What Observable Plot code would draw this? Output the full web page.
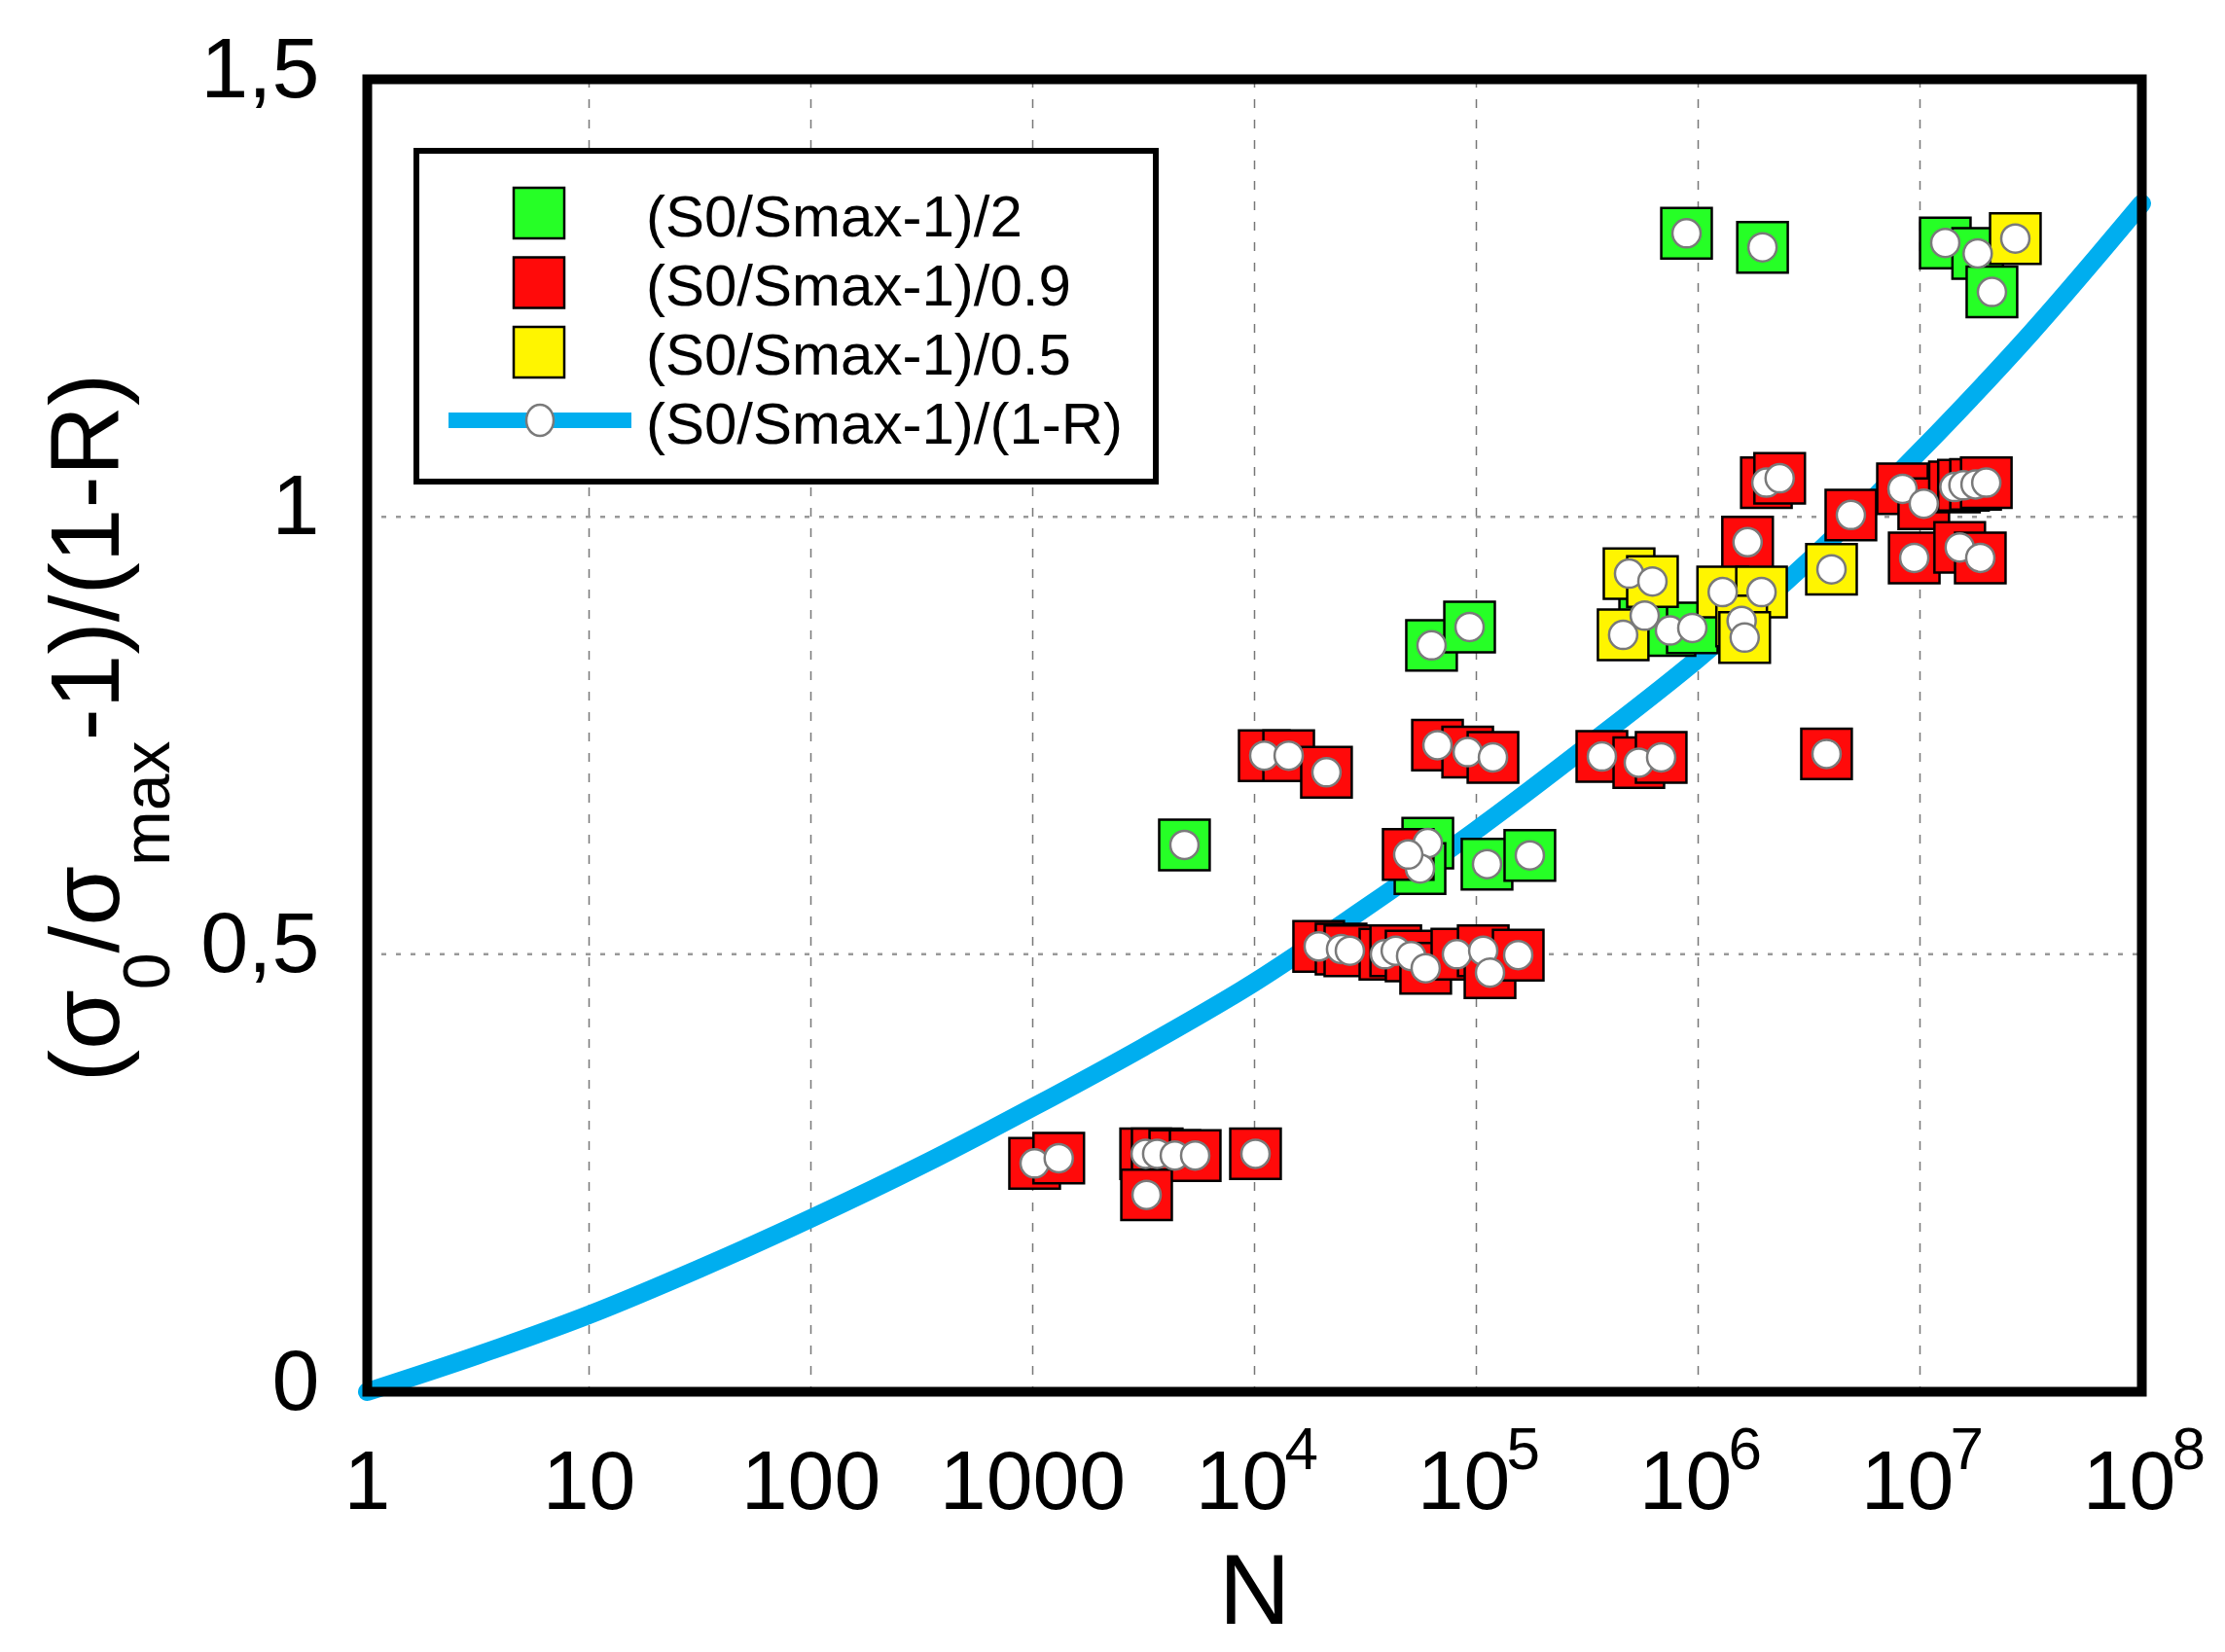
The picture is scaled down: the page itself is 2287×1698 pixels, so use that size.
<!DOCTYPE html>
<html>
<head>
<meta charset="utf-8">
<script src="https://cdn.jsdelivr.net/npm/d3@7"></script>
<script src="https://cdn.jsdelivr.net/npm/@observablehq/plot@0.6"></script>
<style>
  body { margin: 0; background: white; overflow: hidden; }
</style>
</head>
<body>
<div id="chart"></div>
<script>
// valores (N, (S0/Smax-1)/(1-R))
const greenN = [4830, 60400, 55700, 111700, 174200, 62800, 93200, 574000, 746000, 941000, 886000, 1950000, 13000000, 18200000, 21100000]
const greenV = [0.625, 0.627, 0.598, 0.603, 0.613, 0.853, 0.874, 0.887, 0.870, 0.873, 1.324, 1.308, 1.313, 1.301, 1.257]

const redN = [1020, 1310, 3230, 3640, 4370, 5400, 3260, 10100,
  11060, 14250, 21100, 66800, 91400, 118800, 49300,
  19460, 24550, 26900, 38700, 43300, 50800, 59100, 81700, 107400, 115200, 154400,
  368000, 540000, 681000, 3790000,
  2030000, 2330000, 4880000, 8340000, 10400000, 14300000, 15700000, 17800000, 19900000,
  1670000, 9420000, 15100000, 18700000]
const redV = [0.261, 0.267, 0.272, 0.272, 0.270, 0.270, 0.225, 0.272,
  0.727, 0.727, 0.708, 0.739, 0.731, 0.725, 0.614,
  0.509, 0.506, 0.504, 0.500, 0.504, 0.498, 0.484, 0.500, 0.504, 0.479, 0.499,
  0.726, 0.719, 0.725, 0.729,
  1.039, 1.044, 1.002, 1.032, 1.015, 1.034, 1.036, 1.037, 1.039,
  0.971, 0.953, 0.965, 0.953]

const yellowN = [488000, 622000, 459000, 1290000, 1930000, 1570000, 1620000, 3990000, 26900000]
const yellowV = [0.935, 0.926, 0.865, 0.914, 0.914, 0.881, 0.862, 0.940, 1.318]

// curva (S0/Smax-1)/(1-R)
const curveN = [1, 3.162, 10, 31.62, 100, 316.2, 1000, 3162, 1e4, 31623, 1e5, 316228, 1e6, 3162278, 1e7, 31622777, 1e8]
const curveV = [0, 0.042, 0.088, 0.141, 0.198, 0.259, 0.325, 0.394, 0.468, 0.553, 0.642, 0.738, 0.838, 0.950, 1.075, 1.210, 1.358]

const xTicksPlain = [1, 10, 100, 1000]
const xTicksPow = [1e4, 1e5, 1e6, 1e7, 1e8]
const powLabels = ["4", "5", "6", "7", "8"]
const yTicks = [0, 0.5, 1, 1.5]
const gridN = [10, 100, 1000, 1e4, 1e5, 1e6, 1e7]
const gridV = [0.5, 1]

const series = [
  { name: "(S0/Smax-1)/2", color: "#26ff26", n: greenN, v: greenV },
  { name: "(S0/Smax-1)/0.9", color: "#ff0a0a", n: redN, v: redV },
  { name: "(S0/Smax-1)/0.5", color: "#fff500", n: yellowN, v: yellowV }
]
const points = series.flatMap(s => s.n.map((n, i) => ({ N: n, val: s.v[i], color: s.color })))
const curve = curveN.map((n, i) => ({ N: n, val: curveV[i] }))

let chart = Plot.plot({
  width: 2287,
  height: 1698,
  marginLeft: 377,
  marginRight: 86,
  marginTop: 81,
  marginBottom: 268,
  style: { fontFamily: "'Liberation Sans', Arial, sans-serif", background: "white", color: "black" },
  x: { type: "log", domain: [1, 1e8] },
  y: { domain: [0, 1.5] },
  marks: [
    Plot.ruleX(gridN, { stroke: "#777", strokeWidth: 1.5, strokeDasharray: "9,12" }),
    Plot.ruleY(gridV, { stroke: "#999", strokeWidth: 2.5, strokeDasharray: "5,10" }),
    Plot.line(curve, { x: "N", y: "val", stroke: "#00aeef", strokeWidth: 19, curve: "monotone-x" }),
    Plot.dot(points, { x: "N", y: "val", symbol: "square", r: 29.3, fill: d => d.color, stroke: "black", strokeWidth: 2.5 }),
    Plot.dot(points, { x: "N", y: "val", r: 14.5, fill: "white", stroke: "#7a7a7a", strokeWidth: 2.5 }),
    Plot.axisY({ ticks: yTicks, tickSize: 0, tickPadding: 49, fontSize: 88, dy: -10, label: null,
      tickFormat: d => String(d).replace(".", ",") }),
    Plot.axisX({ ticks: xTicksPlain, tickSize: 0, tickPadding: 59, fontSize: 86, label: null, tickFormat: d => String(d) }),
    Plot.axisX({ ticks: xTicksPow, tickSize: 0, tickPadding: 59, fontSize: 86, label: null, dx: -13, tickFormat: () => "10" }),
    Plot.text(xTicksPow, { x: d => d, frameAnchor: "bottom", lineAnchor: "middle", text: (d, i) => powLabels[i],
      dx: 31, dy: 60, textAnchor: "start", fontSize: 62 }),
    Plot.text(["N"], { frameAnchor: "bottom", lineAnchor: "middle", dy: 206, fontSize: 102 }),
    Plot.frame({ stroke: "black", strokeWidth: 10 })
  ]
})

const svg = d3.select(chart)

// etiqueta del eje y con subindices
const ylab = svg.append("text")
  .attr("transform", "translate(122,748) rotate(-90)")
  .attr("text-anchor", "middle")
  .attr("font-size", 100)
  .attr("fill", "black")
ylab.append("tspan").text("(σ")
ylab.append("tspan").attr("font-size", 68).attr("dy", 52).text("0")
ylab.append("tspan").attr("dy", -52).text("/σ")
ylab.append("tspan").attr("font-size", 68).attr("dy", 52).text("max")
ylab.append("tspan").attr("dy", -52).text("-1)/(1-R)")

// leyenda
const lg = svg.append("g").attr("font-size", 60).attr("text-anchor", "start")
lg.append("rect").attr("x", 428).attr("y", 155).attr("width", 760).attr("height", 340)
  .attr("fill", "white").attr("stroke", "black").attr("stroke-width", 6)
series.forEach((s, i) => {
  lg.append("rect").attr("x", 528).attr("y", 193 + i * 71.5).attr("width", 52).attr("height", 52)
    .attr("fill", s.color).attr("stroke", "black").attr("stroke-width", 2.5)
  lg.append("text").attr("x", 664).attr("y", 243 + i * 71).text(s.name)
})
lg.append("line").attr("x1", 461).attr("x2", 649).attr("y1", 432).attr("y2", 432)
  .attr("stroke", "#00aeef").attr("stroke-width", 16)
lg.append("ellipse").attr("cx", 555).attr("cy", 432).attr("rx", 14).attr("ry", 16)
  .attr("fill", "white").attr("stroke", "#7a7a7a").attr("stroke-width", 2.5)
lg.append("text").attr("x", 664).attr("y", 456).text("(S0/Smax-1)/(1-R)")

d3.select('#chart').append(() => chart)
</script>
</body>
</html>
